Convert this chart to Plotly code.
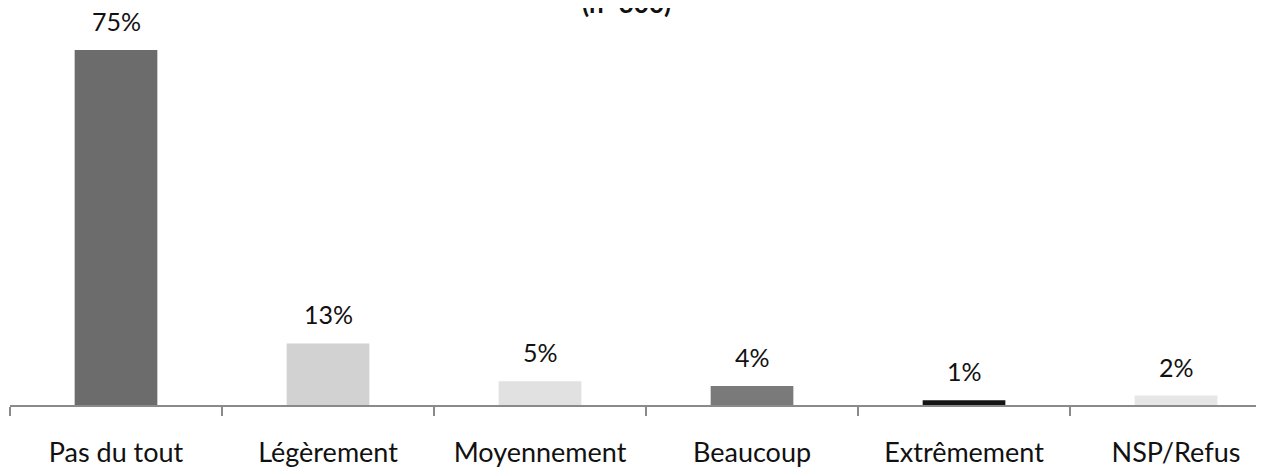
import plotly.graph_objects as go

categories = ["Pas du tout", "Légèrement", "Moyennement", "Beaucoup", "Extrêmement", "NSP/Refus"]
values = [75, 13, 5, 4, 1, 2]
labels = ["75%", "13%", "5%", "4%", "1%", "2%"]
colors = ["#6c6c6c", "#d2d2d2", "#e1e1e1", "#7a7a7a", "#141414", "#e6e6e6"]
title_text = "(n=300)"

FONT = "Lato, Carlito, sans-serif"

fig = go.Figure()
fig.add_trace(go.Bar(
    x=categories, y=values,
    marker=dict(color=colors, line=dict(width=0)),
    width=0.39,
))

annotations = [dict(
    x=c, y=v, xref="x", yref="y", text=t, showarrow=False,
    xanchor="center", yanchor="bottom", yshift=12,
    font=dict(family=FONT, size=25, color="#111"),
) for c, v, t in zip(categories, values, labels)]

annotations.append(dict(
    text="<b>" + title_text + "</b>", xref="paper", yref="paper",
    x=(626 - 10) / 1254, y=1 + 17 / 385, xanchor="center", yanchor="middle",
    showarrow=False, font=dict(family=FONT, size=26, color="#111"),
))

fig.update_layout(
    width=1256, height=460,
    margin=dict(l=2, r=0, t=12, b=63),
    paper_bgcolor="white", plot_bgcolor="white",
    showlegend=False,
    annotations=annotations,
)
fig.update_xaxes(
    range=[-0.5, 5.415], showgrid=False, showline=True, linecolor="#8a8a8a", linewidth=1.5,
    ticks="outside", tickson="boundaries", ticklen=9, tickcolor="#8a8a8a", tickwidth=1.5,
    tickfont=dict(family=FONT, size=27, color="#111"), ticklabelstandoff=23,
)
fig.update_yaxes(range=[0, 81.34], visible=False, showgrid=False)

fig.write_html("out.html")
